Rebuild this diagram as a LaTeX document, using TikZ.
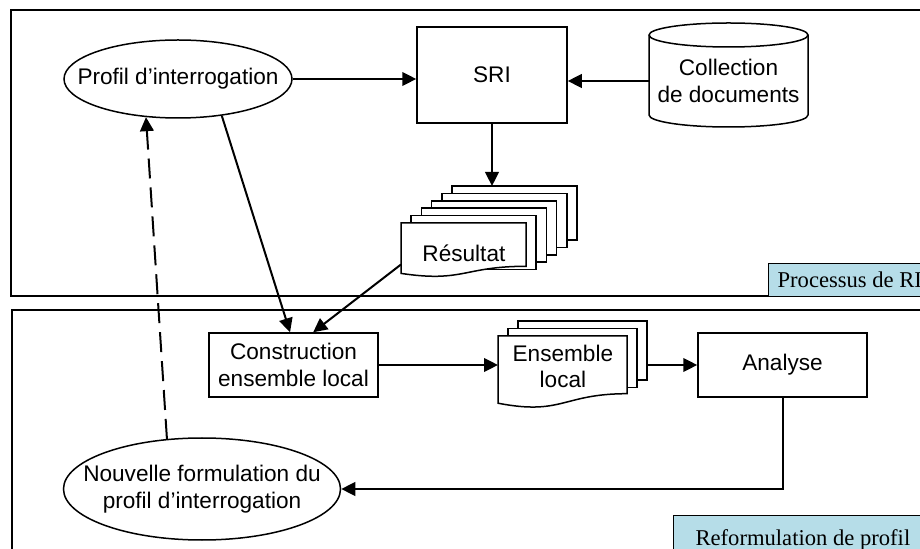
\documentclass[tikz,border=0pt]{standalone}
\usepackage{fontspec}
\setmainfont{Liberation Sans}
\newfontfamily\tagfont{Liberation Serif}
\usetikzlibrary{shapes.geometric, arrows.meta, positioning, calc}
\definecolor{tagcolor}{HTML}{B6DDE8}

\begin{document}
\begin{tikzpicture}[
    x=0.5pt, y=-0.5pt,
    font=\fontsize{11.3}{13.3}\selectfont,
    box/.style={draw, rectangle, line width=0.75pt, align=center, inner sep=0pt},
    oval/.style={draw, ellipse, line width=0.75pt, inner sep=0pt},
    page/.style={draw, line width=0.75pt, fill=white},
    doctext/.style={rectangle, align=center, inner sep=0pt, anchor=north west},
    arr/.style={-{Triangle[length=7pt, width=6.8pt]}, line width=1pt},
    frame/.style={draw, line width=1pt},
    tag/.style={draw, fill=tagcolor, line width=0.6pt, anchor=north west, font=\tagfont\fontsize{11.3}{13.3}\selectfont}
]
\useasboundingbox (0,0) rectangle (920,549);

% the two stages
\draw[frame] (10.5,10.5) rectangle (940,296);
\draw[frame] (11.5,310) rectangle (940,570);
\node[tag, minimum height=16.5pt, inner xsep=4.5pt] (tagri) at (768,263) {Processus de RI};
\node[tag, minimum height=24.5pt, inner xsep=11pt] (tagref) at (673,515) {Reformulation de profil};

% retrieval
\node[oval, minimum width=114pt, minimum height=39pt, label={center:Profil d’interrogation}] (prof) at (178,79) {};
\node[box, minimum width=75pt, minimum height=48pt] (sri) at (492,75) {SRI};
\draw[page] (649,35) -- (649,115) arc (180:0:79.5 and 12) -- (808,35) arc (0:-180:79.5 and 12) -- cycle;
\draw[line width=0.75pt] (649,35) arc (180:0:79.5 and 12);
\node[align=center, minimum width=79.5pt, minimum height=48pt, inner sep=0pt] (coll) at (728.5,81) {Collection\\de documents};

% result documents
\foreach \k in {5,...,1}
  \draw[page] (401+10.2*\k, 223-7.4*\k) rectangle ++(125,54);
\draw[page] (401,223) -- (526,223) -- (526,266.3) .. controls (463.5,266.3) and (463.5,282.8) .. (401,273.4) -- cycle;
\node[doctext, minimum width=62.5pt, minimum height=30pt] (res) at (401,223) {Résultat};
\coordinate (resback) at (452,186);

% local set and analysis
\node[box, minimum width=84.5pt, minimum height=32pt] (cons) at (293.5,365) {Construction\\ensemble local};
\foreach \k in {2,1}
  \draw[page] (498+10*\k, 336-7.5*\k) rectangle ++(129,59);
\draw[page] (498,336) -- (627,336) -- (627,393.7) .. controls (562.5,393.7) and (562.5,415.7) .. (498,403.2) -- cycle;
\node[doctext, minimum width=64.5pt, minimum height=30pt] (ens) at (498,336) {Ensemble\\local};
\coordinate (ensback) at (647,321);
\node[box, minimum width=84.5pt, minimum height=32pt] (ana) at (782.5,365) {Analyse};
\node[oval, minimum width=138.5pt, minimum height=51pt, label={[align=center]center:Nouvelle formulation du\\profil d’interrogation}] (nouv) at (202,489) {};

% connectors
\draw[arr] (prof.east) -- (prof.east -| sri.west);
\draw[arr] (coll.west) -- (coll.west -| sri.east);
\draw[arr] (sri.south) -- (sri.south |- resback);
\draw[arr] (prof.320) -- (cons.96);
\draw[arr] (res.190) -- (cons.59);
\draw[arr] (cons.east) -- (cons.east -| ens.west);
\draw[arr] (ana.west -| ensback) -- (ana.west);
\draw[arr] (ana.south) |- (nouv.east);
\draw[arr, dash pattern=on 10pt off 4.5pt] (nouv.125) -- (prof.230);

\end{tikzpicture}
\end{document}
